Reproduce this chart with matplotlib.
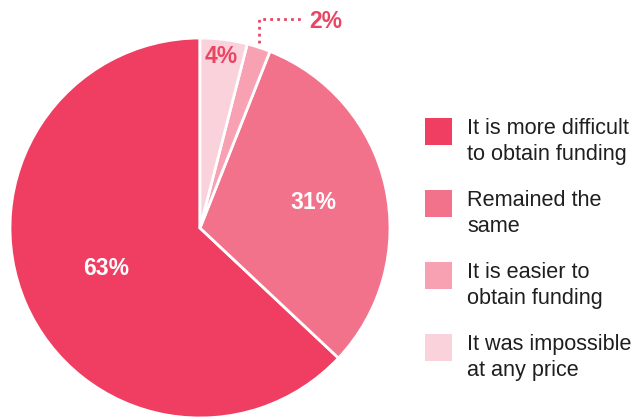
import numpy as np
import matplotlib.pyplot as plt
from matplotlib.patches import Rectangle

plt.rcParams["font.family"] = ["Liberation Sans", "DejaVu Sans"]

# answers, in legend order
labels = [
    "It is more difficult\nto obtain funding",
    "Remained the\nsame",
    "It is easier to\nobtain funding",
    "It was impossible\nat any price",
]
shares = [63, 31, 2, 4]
colors = ["#f03e62", "#f2728c", "#f7a1b3", "#fad2db"]
label_colors = ["white", "white", "#ea4563", "#ea4563"]

W, H = 634, 419
fig = plt.figure(figsize=(W / 100, H / 100), dpi=100)
ax = fig.add_axes([0, 0, 1, 1])

cx, cy, r = 200, H - 228, 190
wedges, _ = ax.pie(
    shares,
    colors=colors,
    startangle=90,
    center=(cx, cy),
    radius=r,
    wedgeprops=dict(edgecolor="white", linewidth=2),
    frame=True,
)
ax.set_xlim(0, W)
ax.set_ylim(0, H)
ax.set_aspect("equal")
ax.axis("off")

# radial position of each percentage label
dist = [0.54, 0.61, None, 0.91]
for w, val, d, tc in zip(wedges, shares, dist, label_colors):
    mid = np.deg2rad((w.theta1 + w.theta2) / 2)
    if d is None:
        # small slice: dotted leader out to the label
        x0 = cx + r * np.cos(mid)
        y0 = cy + r * np.sin(mid)
        yl = H - 19
        ax.plot([x0, x0, x0 + 45], [y0 + 4, yl, yl], color="#ea4563",
                lw=2, ls=(0, (1, 1.5)), solid_capstyle="butt")
        ax.text(x0 + 67, yl - 2, f"{val}%", ha="center", va="center",
                fontsize=16.5, fontweight="bold", color=tc)
    else:
        ax.text(cx + r * d * np.cos(mid), cy + r * d * np.sin(mid),
                f"{val}%", ha="center", va="center",
                fontsize=16.5, fontweight="bold", color=tc)

# legend drawn by hand: squares and two-line labels
for i, (lab, col) in enumerate(zip(labels, colors)):
    top = H - (118 + 72 * i)
    ax.add_patch(Rectangle((425, top - 27), 27, 27, facecolor=col,
                           edgecolor="none"))
    ax.text(467, top - 42, lab, ha="left", va="baseline", fontsize=15.6,
            color="#1f1f1f", linespacing=1.3)

fig.savefig("out.png", dpi=100, facecolor="white")
